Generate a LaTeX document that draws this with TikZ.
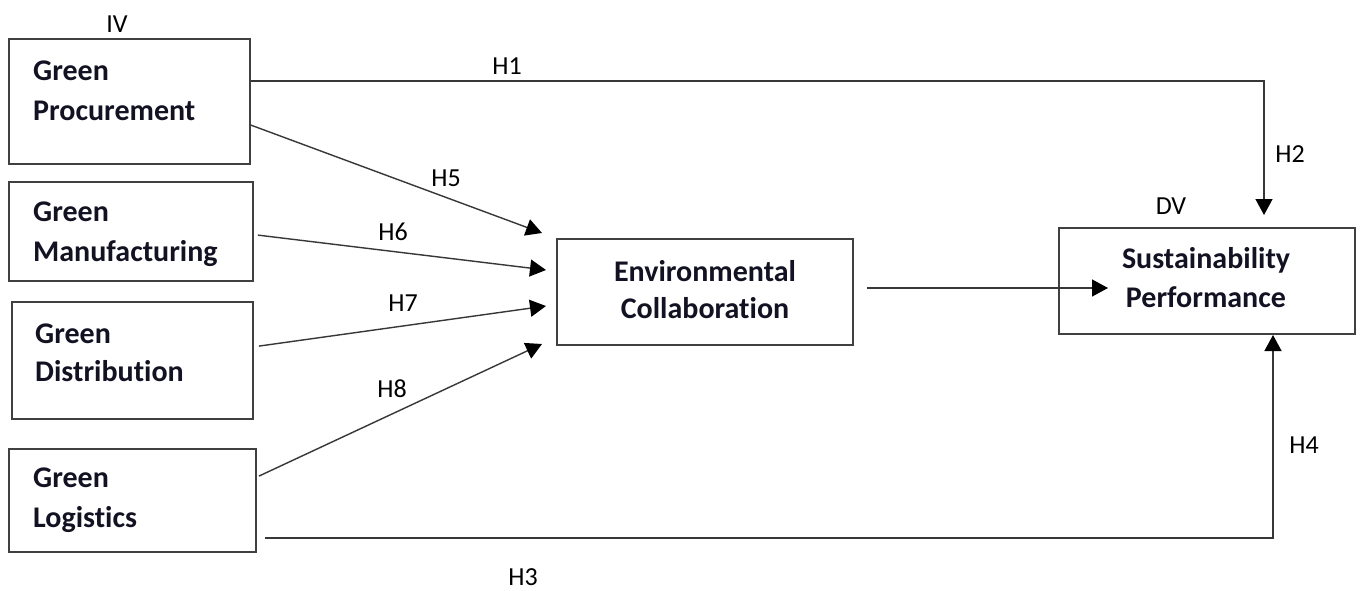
\documentclass[tikz,border=0pt]{standalone}
\usepackage{fontspec}
\setmainfont{Carlito}[Ligatures={NoCommon,TeX}]
\usetikzlibrary{arrows.meta}
\definecolor{boxline}{RGB}{64,64,64}
\definecolor{arrline}{RGB}{55,55,55}
\definecolor{boxtext}{RGB}{18,18,34}
\tikzset{
  varbox/.style={draw=boxline, line width=1.8pt, fill=none, inner sep=0pt},
  boxlabel/.style={anchor=base west, inner sep=0pt, text=boxtext, font=\fontsize{30}{36}\selectfont\bfseries},
  boxlabelc/.style={anchor=base, inner sep=0pt, text=boxtext, font=\fontsize{30}{36}\selectfont\bfseries},
  hyplabel/.style={anchor=base, inner sep=0pt, font=\fontsize{26}{30}\selectfont},
  link/.style={draw=arrline, line width=1.4pt, -{Triangle[length=16pt,width=17pt,color=black]}}
}
\begin{document}
\begin{tikzpicture}[x=1pt,y=-1pt]
\useasboundingbox (0,0) rectangle (1366,590);
\fill[white] (0,0) rectangle (1366,590);

% boxes
\node[varbox, minimum width=241pt, minimum height=125pt] (gp) at (129.5,101.5) {};
\node[varbox, minimum width=244pt, minimum height=99pt] (gm) at (131,231.5) {};
\node[varbox, minimum width=241pt, minimum height=117pt] (gd) at (132.5,360.5) {};
\node[varbox, minimum width=247pt, minimum height=103pt] (gl) at (132.5,500.5) {};
\node[varbox, minimum width=296pt, minimum height=106pt] (ec) at (705,292) {};
\node[varbox, minimum width=296pt, minimum height=106pt] (sp) at (1207,281) {};

% box texts
\node[boxlabel] (gpa) at (33,80) {Green};
\node[boxlabel] (gpb) at (33,120) {Procurement};
\node[boxlabel] (gma) at (33,221) {Green};
\node[boxlabel] (gmb) at (33,261) {Manufacturing};
\node[boxlabel] (gda) at (35,343) {Green};
\node[boxlabel] (gdb) at (35,381) {Distribution};
\node[boxlabel] (gla) at (33,487) {Green};
\node[boxlabel] (glb) at (33,527) {Logistics};
\node[boxlabelc] (eca) at (705,281) {Environmental};
\node[boxlabelc] (ecb) at (705,318) {Collaboration};
\node[boxlabelc] (spa) at (1206,268) {Sustainability};
\node[boxlabelc] (spb) at (1206,307) {Performance};

% labels
\node[hyplabel] (iv) at (117,32) {IV};
\node[hyplabel] (dv) at (1171,214) {DV};
\node[hyplabel] (h1) at (507,74) {H1};
\node[hyplabel] (h2) at (1290,162) {H2};
\node[hyplabel] (h3) at (523,585) {H3};
\node[hyplabel] (h4) at (1304,453) {H4};
\node[hyplabel] (h5) at (446,186) {H5};
\node[hyplabel] (h6) at (393,240) {H6};
\node[hyplabel] (h7) at (403,311) {H7};
\node[hyplabel] (h8) at (392,397) {H8};

% connector end points
\coordinate (h2tip) at (1264,215);
\coordinate (h5tip) at (542,233);
\coordinate (h6tip) at (546,270);
\coordinate (h7tip) at (546,306);
\coordinate (h8tip) at (542,344);
\coordinate (ecout) at (867,288);
\coordinate (sptip) at (1108,288);
\coordinate (h3start) at (265,538);
\coordinate (h4tip) at (1273,335);

% connectors
\draw[link] ([yshift=-43pt]gp.north east) -| (h2tip);
\draw[link] ([yshift=-87pt]gp.north east) -- (h5tip);
\draw[link] ([xshift=4pt,yshift=-54pt]gm.north east) -- (h6tip);
\draw[link] ([xshift=5pt,yshift=-45pt]gd.north east) -- (h7tip);
\draw[link] ([xshift=2pt,yshift=-28pt]gl.north east) -- (h8tip);
\draw[link] (ecout) -- (sptip);
\draw[link] (h3start) -| (h4tip);
\end{tikzpicture}
\end{document}
